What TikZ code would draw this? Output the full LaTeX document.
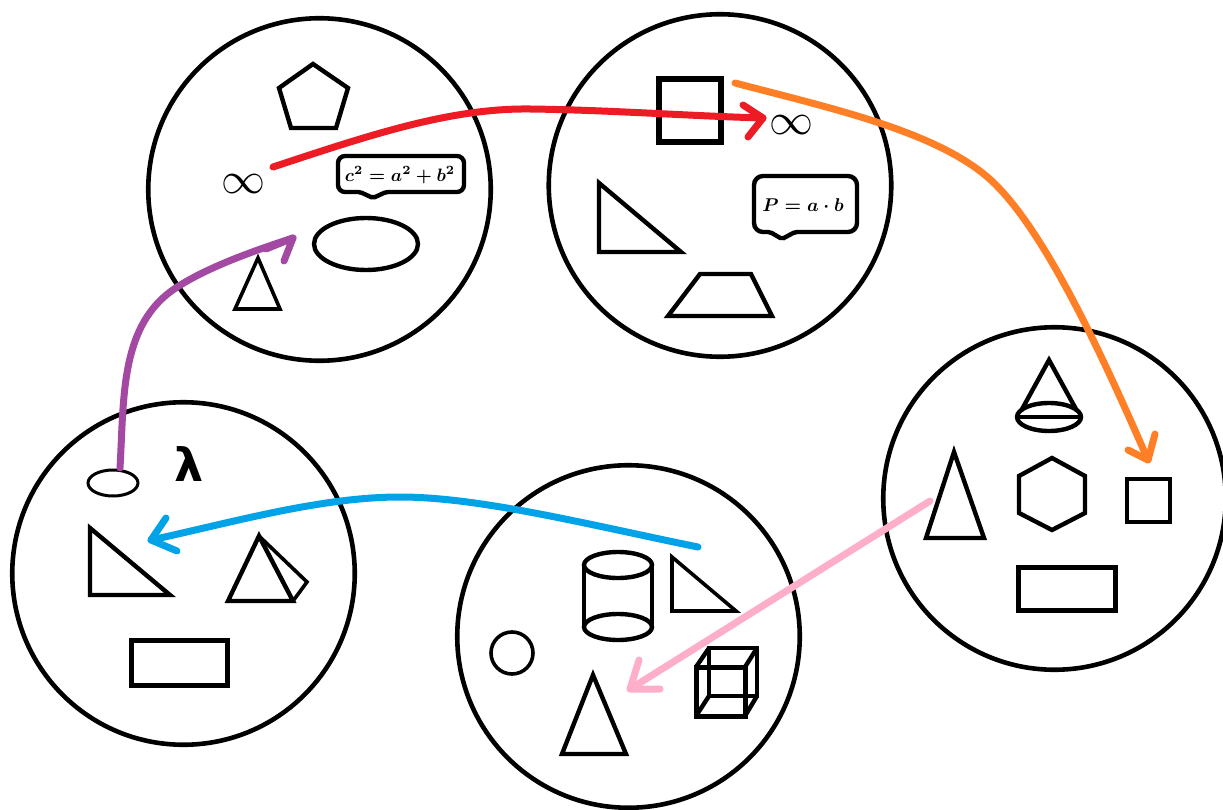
\documentclass[tikz,border=0pt]{standalone}
\usepackage{fontspec}
\newfontfamily\lamfont{DejaVu Sans}
\begin{document}
\begin{tikzpicture}[x=1pt,y=-1pt,
  group/.style={draw=black,line width=4.6pt,circle,minimum size=342.5pt,inner sep=0pt,outer sep=0pt},
  shp/.style={draw=black,line width=4.4pt,line join=miter},
  thin shp/.style={draw=black,line width=3.6pt,line join=miter},
  thick shp/.style={draw=black,line width=6.5pt,line join=miter},
  inf/.style={inner sep=0pt,scale=4.4},
  eqn/.style={inner sep=0pt,font=\boldmath},
  flow/.style={line width=7pt,line cap=round,line join=round}]
\definecolor{cred}{HTML}{ED1C24}
\definecolor{corange}{HTML}{FF7F27}
\definecolor{cpink}{HTML}{FFAEC9}
\definecolor{cblue}{HTML}{00A2E8}
\definecolor{cpurple}{HTML}{A349A4}
\useasboundingbox[fill=white] (0,0) rectangle (1223,810);
% groups
\node[group] (g1) at (319.5,189.5) {};
\node[group] (g2) at (720,185.5) {};
\node[group] (g3) at (1054.5,498.5) {};
\node[group] (g4) at (628.5,636.5) {};
\node[group] (g5) at (183.5,573.5) {};
% group 1
\draw[shp] (313,64)--(348,88)--(336,128)--(291,128)--(279,88)--cycle;
\node[inf] (inf1) at (243,184) {$\infty$};
\draw[shp,rounded corners=7pt] (338,156) -- (464,156) -- (464,192) [rounded corners=2pt] -- (386,192) -- (373,198) -- (360,192) [rounded corners=7pt] -- (338,192) -- cycle;
\node[eqn,scale=1.8] (eq1) at (400,175) {$c^2=a^2+b^2$};
\draw[shp] (366,244) ellipse (52 and 26);
\draw[thin shp] (258,258)--(235,309)--(280,309)--cycle;
% group 2
\draw[thick shp] (659,79) rectangle (721,142);
\node[inf] (inf2) at (791,125) {$\infty$};
\draw[shp] (599,183)--(599,252)--(681,252)--cycle;
\draw[shp,rounded corners=9pt] (754,176) -- (857,176) -- (857,232) [rounded corners=2pt] -- (795,232) -- (782,239) -- (770,232) [rounded corners=9pt] -- (754,232) -- cycle;
\node[eqn,scale=1.85] (eq2) at (803,205) {$P=a\cdot b$};
\draw[shp] (668,316)--(772,316)--(751,274)--(700,274)--cycle;
% group 3
\draw[shp] (1021,411)--(1049,360)--(1077,411);
\draw[shp] (1049,417) ellipse (32 and 14);
\draw[shp] (1017,417)--(1081,417);
\draw[shp] (954,452)--(926,538)--(984,538)--cycle;
\draw[shp] (1052,458)--(1085,476)--(1085,513)--(1052,530)--(1019,513)--(1019,476)--cycle;
\draw[shp] (1127,479) rectangle (1170,522);
\draw[thick shp,line width=5pt] (1018,567) rectangle (1115,610);
% group 4
\draw[shp] (618,565) ellipse (34 and 13);
\draw[shp] (618,627) ellipse (34 and 13);
\draw[shp] (584,565)--(584,627);
\draw[shp] (652,565)--(652,627);
\draw[thin shp] (672,557)--(672,611)--(736,611)--cycle;
\draw[thin shp] (512,653) circle (21);
\draw[shp] (593,675)--(562,754)--(626,754)--cycle;
\draw[shp,line width=5pt] (696,667) rectangle (745,716);
\draw[shp] (709,648) rectangle (757,696);
\draw[shp] (696,667)--(709,648) (745,667)--(757,648) (745,716)--(757,696) (696,716)--(709,696);
% group 5
\draw[draw=black,line width=3pt] (113,483) ellipse (25 and 13);
\node[inner sep=0pt,font=\lamfont\bfseries\fontsize{46}{46}\selectfont] (lam) at (189,464) {λ};
\draw[shp] (90,528)--(90,595)--(170,595)--cycle;
\draw[shp] (259,536)--(228,601)--(293,601)--cycle;
\draw[thin shp] (259,536)--(307,582)--(293,601);
\draw[thin shp] (259,536)--(293,601);
\draw[thick shp,line width=5pt] (131,640) rectangle (227,685);
% connectors
\coordinate (redS) at (273,167);
\coordinate (redE) at (763,118);
\coordinate (orS) at (735,83);
\coordinate (orE) at (1148,460);
\coordinate (piS) at (930,501);
\coordinate (piE) at (630,689);
\coordinate (blS) at (698,547);
\coordinate (blE) at (151,540);
\coordinate (puS) at (120,468);
\coordinate (puE) at (293,238);
\draw[flow,cred] (redS) .. controls (370,135) and (450,108) .. (530,109) .. controls (610,110) and (690,116) .. (redE);
\draw[flow,cred] (743,105)--(redE)--(748,137);
\draw[flow,corange] (orS) .. controls (830,108) and (930,130) .. (985,175) .. controls (1040,220) and (1100,350) .. (orE);
\draw[flow,corange] (1155,434)--(orE)--(1128,450);
\draw[flow,cpink] (piS)--(piE);
\draw[flow,cpink] (639,660)--(piE)--(660,689);
\draw[flow,cblue] (blS) .. controls (590,525) and (480,497) .. (400,497) .. controls (320,497) and (230,523) .. (blE);
\draw[flow,cblue] (166,518)--(blE)--(177,551);
\draw[flow,cpurple] (puS) .. controls (124,400) and (120,330) .. (170,292) .. controls (200,270) and (250,252) .. (puE);
\draw[flow,cpurple] (266,249)--(puE)--(284,261);
\end{tikzpicture}
\end{document}
